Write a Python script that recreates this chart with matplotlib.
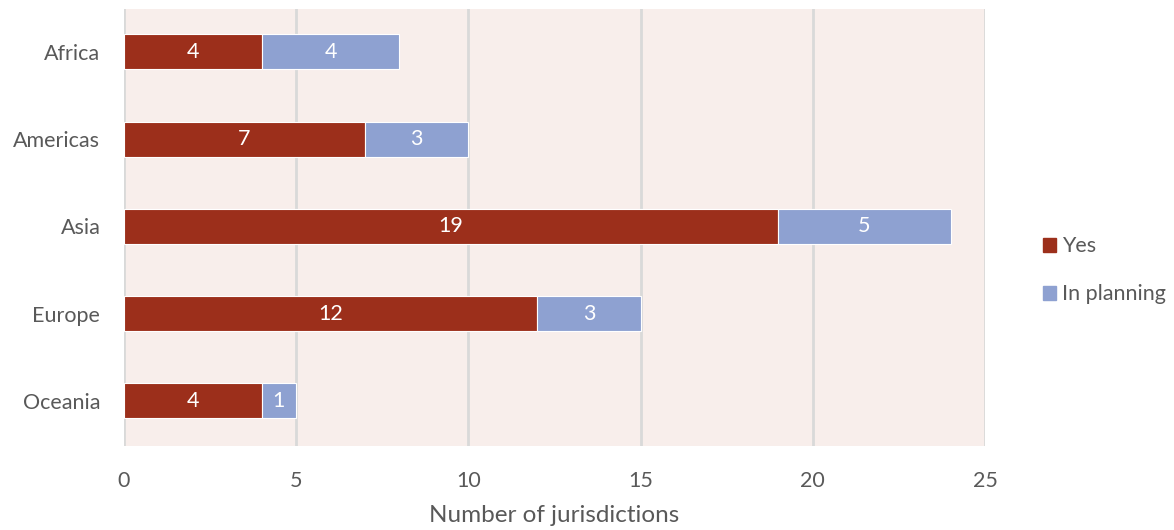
import matplotlib.pyplot as plt
from matplotlib.patches import Patch

regions = ["Africa", "Americas", "Asia", "Europe", "Oceania"]
yes = [4, 7, 19, 12, 4]
in_planning = [4, 3, 5, 3, 1]

red = "#9C2F1B"
blue = "#8EA1D1"
grey = "#595959"

plt.rcParams["font.family"] = ["Lato", "DejaVu Sans"]

fig = plt.figure(figsize=(11.74, 5.3), dpi=100)
ax = fig.add_axes([0.1056, 0.158, 0.7334, 0.825])
ax.set_facecolor("#F8EEEB")

pos = list(range(len(regions)))
b1 = ax.barh(pos, yes, height=0.4, color=red, edgecolor="white", linewidth=0.8, zorder=3)
b2 = ax.barh(pos, in_planning, left=yes, height=0.4, color=blue, edgecolor="white", linewidth=0.8, zorder=3)

for bars in (b1, b2):
    ax.bar_label(bars, label_type="center", color="white", fontsize=15.5)

ax.set_yticks(pos)
ax.set_yticklabels(regions)
ax.set_ylim(4.52, -0.49)
ax.set_xlim(0, 25)
ax.set_xticks([0, 5, 10, 15, 20, 25])
ax.grid(axis="x", color="#D9D9D9", linewidth=2, zorder=0)
for s in ax.spines.values():
    s.set_visible(False)
ax.tick_params(length=0, colors=grey, labelsize=15.5)
ax.tick_params(axis="x", pad=18)
ax.tick_params(axis="y", pad=17)
ax.set_xlabel("Number of jurisdictions", color=grey, fontsize=17.5, labelpad=10)

handles = [Patch(color=red, label="Yes"), Patch(color=blue, label="In planning")]
fig.legend(handles=handles, loc="center left", bbox_to_anchor=(0.872, 0.49),
           frameon=False, fontsize=15.5, labelcolor=grey, handlelength=0.6,
           handleheight=0.6, handletextpad=0.3, labelspacing=1.3)

fig.savefig("out.png", dpi=100)
